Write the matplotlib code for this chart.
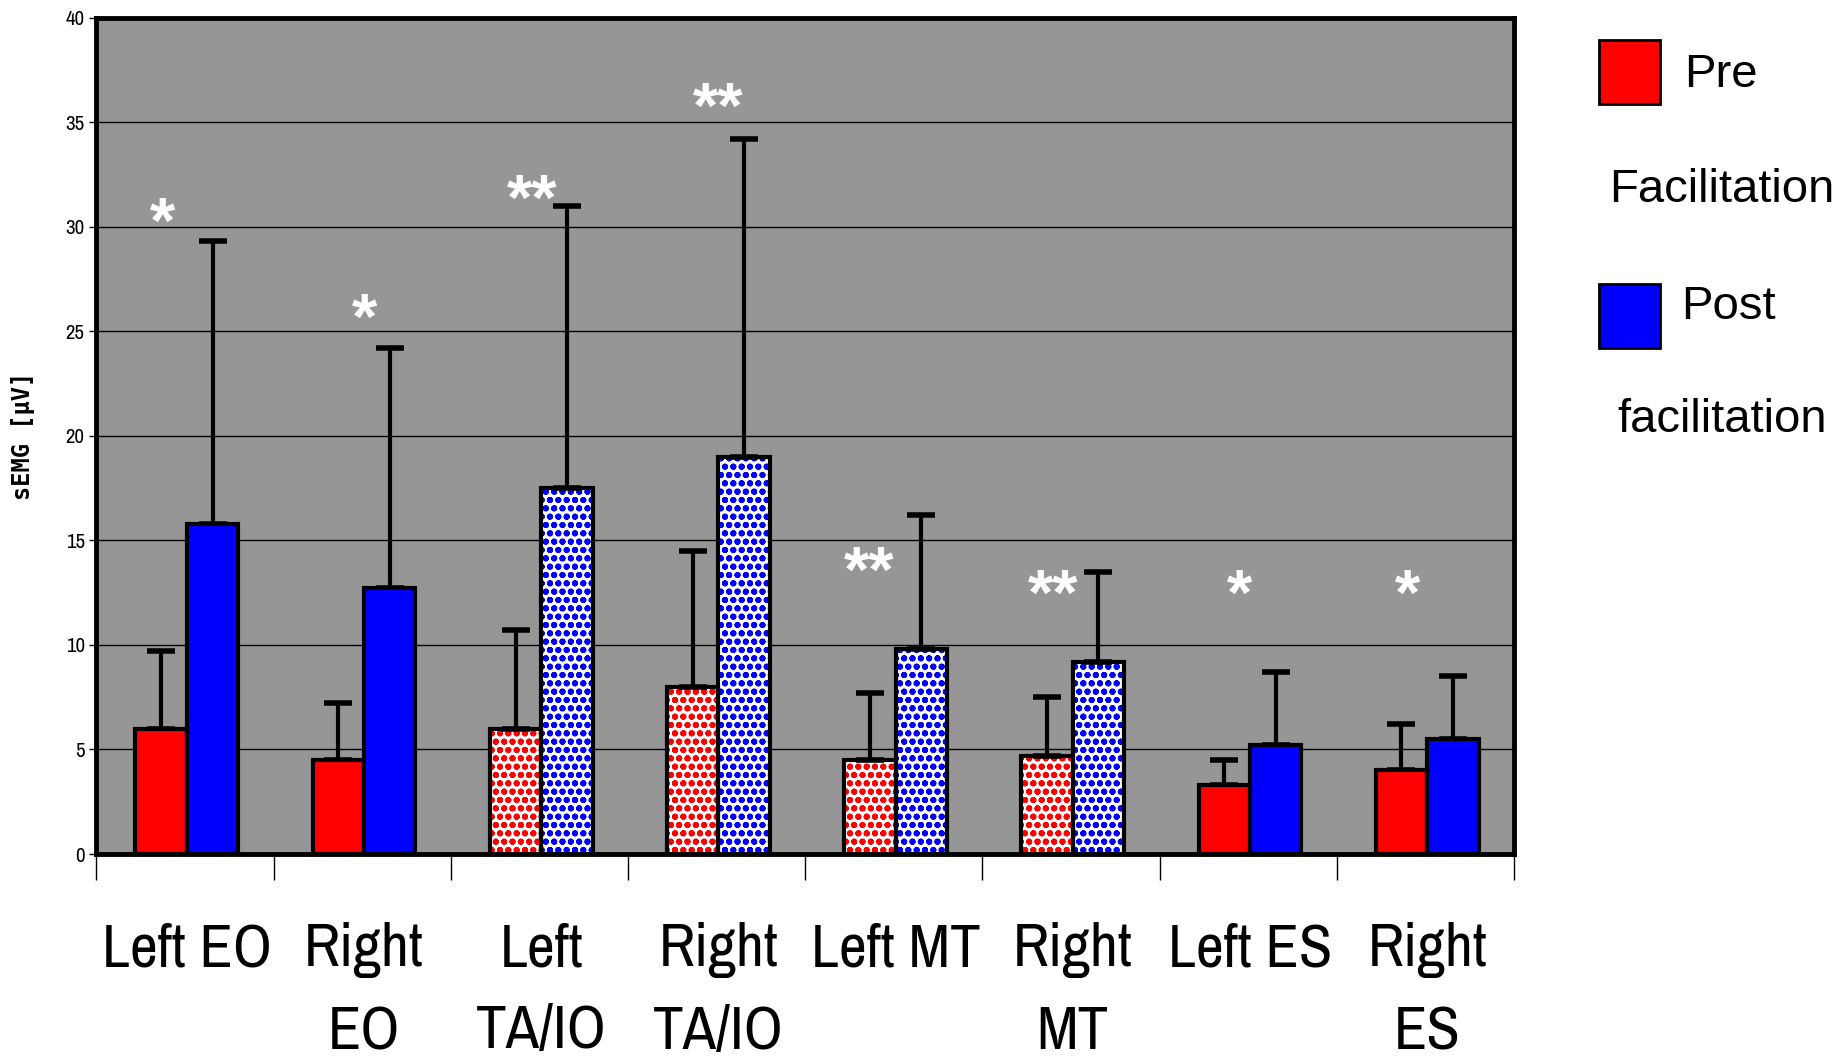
import numpy as np
import matplotlib
matplotlib.use('Agg')
import matplotlib.pyplot as plt
from matplotlib.patches import Rectangle

# Datos
grupos = ['Left EO', 'Right\nEO', 'Left\nTA/IO', 'Right\nTA/IO',
          'Left MT', 'Right\nMT', 'Left ES', 'Right\nES']
pre = [6.0, 4.5, 6.0, 8.0, 4.5, 4.7, 3.3, 4.0]
post = [15.8, 12.7, 17.5, 19.0, 9.8, 9.2, 5.2, 5.5]
pre_err = [3.7, 2.7, 4.7, 6.5, 3.2, 2.8, 1.2, 2.2]
post_err = [13.5, 11.5, 13.5, 15.2, 6.4, 4.3, 3.5, 3.0]
rellenos = [False, False, True, True, True, True, False, False]  # barras punteadas
estrellas = ['*', '*', '**', '**', '**', '**', '*', '*']
estrella_x = [0.375, 1.515, 2.46, 3.51, 4.36, 5.40, 6.45, 7.40]
estrella_y = [30.7, 26.1, 31.8, 36.2, 14.0, 12.9, 12.9, 12.9]

estrecha = ['Liberation Sans Narrow', 'Archivo Narrow', 'DejaVu Sans']
plt.rcParams['hatch.linewidth'] = 2.0

fig = plt.figure(figsize=(18.45, 10.58), dpi=100)
ax = fig.add_axes([0.0523, 0.1928, 0.7683, 0.7906])
ax.set_facecolor('#969696')

x = np.arange(len(grupos)) + 0.51
w = 0.29

for i in range(len(grupos)):
    for xc, val, col in [(x[i] - w / 2, pre[i], 'red'), (x[i] + w / 2, post[i], 'blue')]:
        if rellenos[i]:
            ax.bar(xc, val, w, color='white', edgecolor=col, hatch='oo', lw=0, zorder=2)
            ax.bar(xc, val, w, fill=False, edgecolor='black', lw=3, zorder=3)
        else:
            ax.bar(xc, val, w, color=col, edgecolor='black', lw=3, zorder=3)

ax.errorbar(x - w / 2, pre, yerr=[np.zeros(8), pre_err], fmt='none', ecolor='black',
            elinewidth=3, capsize=10, capthick=4, zorder=2.5)
ax.errorbar(x + w / 2, post, yerr=[np.zeros(8), post_err], fmt='none', ecolor='black',
            elinewidth=3, capsize=10, capthick=4, zorder=2.5)

tam_estrella = 47
for sx, sy, s in zip(estrella_x, estrella_y, estrellas):
    ax.annotate(s, (sx, sy), xytext=(0, -0.47 * tam_estrella), textcoords='offset points',
                color='white', fontsize=tam_estrella, fontweight='bold',
                ha='center', va='baseline', family='Liberation Sans')

ax.set_xlim(0, 8)
ax.set_ylim(0, 40)
ax.set_yticks(range(0, 41, 5))
ax.yaxis.grid(True, color='black', lw=1)
ax.set_axisbelow(True)
ax.tick_params(axis='y', labelsize=15, length=5, width=1)
for lab in ax.get_yticklabels():
    lab.set_family(estrecha)

ax.set_xticks(range(9))
ax.set_xticklabels([])
ax.tick_params(axis='x', which='major', length=19, width=1)
ax.set_xticks(x, minor=True)
ax.set_xticklabels(grupos, minor=True, fontsize=44, family=estrecha,
                   linespacing=1.62, va='top')
ax.tick_params(axis='x', which='minor', length=0, pad=49)

for sp in ax.spines.values():
    sp.set_linewidth(3.5)

ax.set_ylabel('sEMG [µV]', fontsize=17, fontweight='bold', labelpad=22,
              family='DejaVu Sans Mono')

# Leyenda manual
fig.add_artist(Rectangle((0.8667, 0.9017), 0.033, 0.0605, transform=fig.transFigure,
                         facecolor='red', edgecolor='black', lw=2))
fig.add_artist(Rectangle((0.8667, 0.6707), 0.033, 0.0605, transform=fig.transFigure,
                         facecolor='blue', edgecolor='black', lw=2))
fig.text(0.913, 0.929, 'Pre', fontsize=34, va='center', family='Liberation Sans')
fig.text(0.9335, 0.820, 'Facilitation', fontsize=34, va='center', ha='center',
         family='Liberation Sans')
fig.text(0.911, 0.710, 'Post', fontsize=34, va='center', family='Liberation Sans')
fig.text(0.9335, 0.603, 'facilitation', fontsize=34, va='center', ha='center',
         family='Liberation Sans')

fig.savefig('out.png', dpi=100)
